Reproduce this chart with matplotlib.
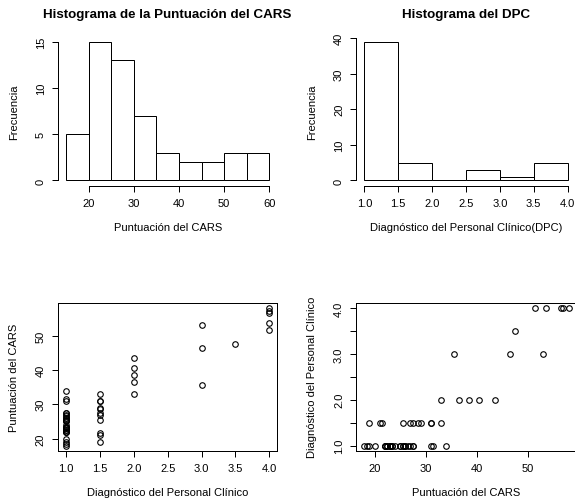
import numpy as np
import pandas as pd
import matplotlib
matplotlib.use('Agg')
import matplotlib.pyplot as plt

plt.rcParams['font.family'] = ['Liberation Sans', 'DejaVu Sans']
plt.rcParams['font.size'] = 8

# puntuacion CARS por diagnostico DPC
dpc = [1.0]*28 + [1.5]*11 + [2.0]*5 + [3.0]*3 + [3.5] + [4.0]*5
cars = [18, 18.5, 19, 20, 22, 22, 22, 22.5, 22.5, 23, 23, 23, 23.5, 23.5, 24, 25, 25,
        25.5, 25.5, 26, 26, 26.5, 27, 27.5, 27.5, 31, 31.5, 34,
        19, 21, 21.5, 25.5, 27, 27.5, 28.5, 29, 31, 31, 33,
        33, 36.5, 38.5, 40.5, 43.5,
        35.5, 46.5, 53,
        47.5,
        51.5, 53.5, 56.5, 57, 58]
cars_breaks = [15, 20, 25, 30, 35, 40, 45, 50, 55, 60]
dpc_breaks = [1.0, 1.5, 2.0, 2.5, 3.0, 3.5, 4.0]

lw = 0.72  # 1 px

def r_hist(ax, x, breaks):
    # R style: right closed bins, lowest included
    counts = pd.Series(pd.cut(x, bins=breaks, right=True, include_lowest=True)).value_counts(sort=False).values
    ax.bar(breaks[:-1], counts, width=np.diff(breaks), align='edge',
           color='white', edgecolor='black', linewidth=lw)
    return counts

def r_pad(lo, hi):
    d = 0.04*(hi - lo)
    return lo - d, hi + d

def style(ax):
    ax.tick_params(direction='out', length=4.3, width=lw, pad=4.5, labelsize=8)
    plt.setp(ax.get_yticklabels(), rotation=90, va='center')
    for s in ax.spines.values():
        s.set_linewidth(lw)

fig = plt.figure(figsize=(5.75, 5.02), dpi=100)

# histograma CARS
ax = fig.add_axes([0.1009, 0.6275, 0.3814, 0.2988])
cnt = r_hist(ax, cars, cars_breaks)
ax.set_xlim(*r_pad(15, 60))
ax.set_ylim(*r_pad(0, cnt.max()))
ax.set_xticks([20, 30, 40, 50, 60])
ax.set_yticks([0, 5, 10, 15])
ax.spines['top'].set_visible(False)
ax.spines['right'].set_visible(False)
ax.spines['bottom'].set_bounds(20, 60)
ax.spines['left'].set_bounds(0, 15)
style(ax)
ax.set_title('Histograma de la Puntuación del CARS', fontsize=9.6, fontweight='bold', pad=14)
ax.set_xlabel('Puntuación del CARS', labelpad=10)
ax.set_ylabel('Frecuencia', labelpad=12)

# histograma DPC
ax = fig.add_axes([0.6195, 0.6275, 0.3817, 0.2988])
cnt = r_hist(ax, dpc, dpc_breaks)
ax.set_xlim(*r_pad(1, 4))
ax.set_ylim(*r_pad(0, cnt.max()))
ax.set_xticks(dpc_breaks)
ax.set_xticklabels(['%.1f' % v for v in dpc_breaks])
ax.set_yticks([0, 10, 20, 30, 40])
ax.spines['top'].set_visible(False)
ax.spines['right'].set_visible(False)
ax.spines['bottom'].set_bounds(1, 4)
ax.spines['left'].set_bounds(0, 40)
style(ax)
ax.set_title('Histograma del DPC', fontsize=9.6, fontweight='bold', pad=14)
ax.set_xlabel('Diagnóstico del Personal Clínico(DPC)', labelpad=10)
ax.set_ylabel('Frecuencia', labelpad=12)

# dispersion DPC vs CARS
ax = fig.add_axes([0.1009, 0.0996, 0.3814, 0.2958])
ax.plot(dpc, cars, 'o', ms=4, mfc='none', mec='black', mew=0.8)
ax.set_xlim(*r_pad(min(dpc), max(dpc)))
ax.set_ylim(*r_pad(min(cars), max(cars)))
ax.set_xticks(dpc_breaks)
ax.set_xticklabels(['%.1f' % v for v in dpc_breaks])
ax.set_yticks([20, 30, 40, 50])
style(ax)
ax.set_xlabel('Diagnóstico del Personal Clínico', labelpad=10)
ax.set_ylabel('Puntuación del CARS', labelpad=12)

# dispersion CARS vs DPC (right edge of the box falls just outside the picture)
ax = fig.add_axes([0.6195, 0.0996, 0.3835, 0.2958])
ax.plot(cars, dpc, 'o', ms=4, mfc='none', mec='black', mew=0.8)
ax.set_xlim(*r_pad(min(cars), max(cars)))
ax.set_ylim(*r_pad(min(dpc), max(dpc)))
ax.set_xticks([20, 30, 40, 50])
ax.set_yticks(dpc_breaks)
ax.set_yticklabels(['%.1f' % v if v % 1 == 0 else '' for v in dpc_breaks])
style(ax)
ax.set_xlabel('Puntuación del CARS', labelpad=10)
ax.set_ylabel('Diagnóstico del Personal Clínico', labelpad=12)

plt.savefig('out.png', dpi=100)
